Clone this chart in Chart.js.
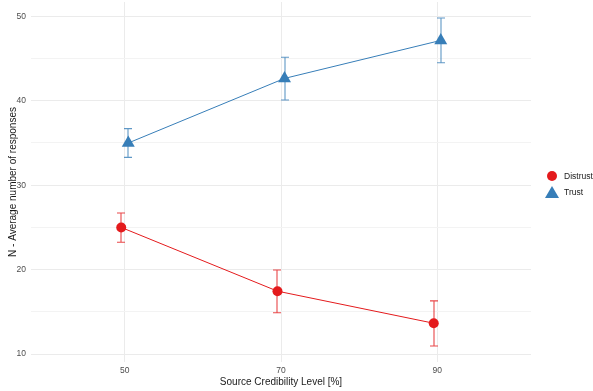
<!DOCTYPE html>
<html>
<head>
<meta charset="utf-8">
<script src="https://cdn.jsdelivr.net/npm/chart.js@4/dist/chart.umd.min.js"></script>
<style>
  html, body { margin: 0; padding: 0; background: #fff; overflow: hidden; }
  #wrap { position: relative; width: 593px; height: 391px; overflow: hidden; }
  #legend { position: absolute; left: 545px; top: 168px; font-family: "Liberation Sans", Arial, sans-serif; font-size: 8.5px; color: #1a1a1a; white-space: nowrap; }
  .item { display: flex; align-items: center; height: 16px; }
  .sym { width: 14px; height: 14px; position: relative; margin-right: 5px; flex: none; }
  .dot { position: absolute; left: 2px; top: 2px; width: 10px; height: 10px; border-radius: 50%; background: #E41A1C; }
  .tri { position: absolute; left: 0; top: 1px; width: 0; height: 0; border-left: 7px solid transparent; border-right: 7px solid transparent; border-bottom: 12px solid #377EB8; }
</style>
</head>
<body>
<div id="wrap">
  <canvas id="chart" width="593" height="391"></canvas>
  <div id="legend">
    <div class="item"><div class="sym"><div class="dot"></div></div>Distrust</div>
    <div class="item"><div class="sym"><div class="tri"></div></div>Trust</div>
  </div>
</div>
<script>
// data
const levels = [50, 70, 90];
const distrustMean = [25.0, 17.45, 13.65];
const distrustLow = [23.25, 14.9, 10.95];
const distrustHigh = [26.7, 19.95, 16.3];
const trustMean = [35.0, 42.65, 47.15];
const trustLow = [33.3, 40.1, 44.5];
const trustHigh = [36.7, 45.15, 49.8];
const xTicks = [50, 70, 90];
const yTicks = [10, 15, 20, 25, 30, 35, 40, 45, 50];

const RED = '#E41A1C';
const BLUE = '#377EB8';
const barColors = [RED, BLUE];
const dodge = 0.45;

function points(means, low, high, shift) {
    return levels.map((x, i) => ({ x: x + shift, y: means[i], lo: low[i], hi: high[i] }));
}

// error bars drawn under the points
const errorBars = {
    id: 'errorBars',
    beforeDatasetsDraw(chart) {
        const c = chart.ctx;
        const xs = chart.scales.x, ys = chart.scales.y;
        chart.data.datasets.forEach((ds, k) => {
            c.save();
            c.strokeStyle = barColors[k];
            c.globalAlpha = 0.8;
            c.lineWidth = 1.1;
            ds.data.forEach(p => {
                const px = Math.round(xs.getPixelForValue(p.x));
                const top = ys.getPixelForValue(p.hi);
                const bot = ys.getPixelForValue(p.lo);
                c.beginPath();
                c.moveTo(px, top); c.lineTo(px, bot);
                c.moveTo(px - 4, top); c.lineTo(px + 4, top);
                c.moveTo(px - 4, bot); c.lineTo(px + 4, bot);
                c.stroke();
            });
            c.restore();
        });
    }
};

const ctx = document.getElementById('chart').getContext('2d');
new Chart(ctx, {
    type: 'scatter',
    data: {
        datasets: [
            {
                label: 'Distrust',
                data: points(distrustMean, distrustLow, distrustHigh, -dodge),
                showLine: true,
                borderColor: RED,
                backgroundColor: RED,
                borderWidth: 1,
                pointStyle: 'circle',
                pointRadius: 5,
                pointBorderWidth: 0
            },
            {
                label: 'Trust',
                data: points(trustMean, trustLow, trustHigh, dodge),
                showLine: true,
                borderColor: BLUE,
                backgroundColor: BLUE,
                borderWidth: 1,
                pointStyle: 'triangle',
                pointRadius: 7.5,
                pointBorderWidth: 0
            }
        ]
    },
    options: {
        responsive: false,
        animation: false,
        layout: { autoPadding: false, padding: { top: 2, right: 62, left: 0, bottom: 0 } },
        plugins: { legend: { display: false }, tooltip: { enabled: false } },
        scales: {
            x: {
                type: 'linear',
                min: 38,
                max: 102,
                afterBuildTicks: s => { s.ticks = xTicks.map(v => ({ value: v })); },
                afterFit: s => { s.height = 29; s.paddingLeft = 0; s.paddingRight = 0; },
                border: { display: false },
                grid: { color: '#ebebeb', lineWidth: 1, drawTicks: false },
                ticks: { padding: 4, color: '#4d4d4d', font: { family: 'Liberation Sans, Arial', size: 8.5 } },
                title: {
                    display: true,
                    text: 'Source Credibility Level [%]',
                    color: '#1a1a1a',
                    padding: { top: 0, bottom: 3 },
                    font: { family: 'Liberation Sans, Arial', size: 10 }
                }
            },
            y: {
                min: 9.06,
                max: 51.7,
                afterBuildTicks: s => { s.ticks = yTicks.map(v => ({ value: v })); },
                afterFit: s => { s.width = 31; s.paddingTop = 0; s.paddingBottom = 0; },
                border: { display: false },
                grid: {
                    drawTicks: false,
                    color: c => (c.tick.value % 10 === 0 ? '#ebebeb' : '#f3f3f3'),
                    lineWidth: 1
                },
                ticks: {
                    padding: 5,
                    color: '#4d4d4d',
                    font: { family: 'Liberation Sans, Arial', size: 8.5 },
                    callback: v => (v % 10 === 0 ? v : '')
                },
                title: {
                    display: true,
                    text: 'N - Average number of responses',
                    color: '#1a1a1a',
                    padding: { top: 7, bottom: 0 },
                    font: { family: 'Liberation Sans, Arial', size: 10 }
                }
            }
        }
    },
    plugins: [errorBars]
});
</script>
</body>
</html>
